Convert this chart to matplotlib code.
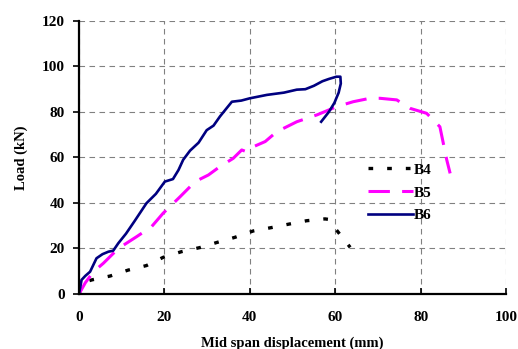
import numpy as np
import matplotlib
matplotlib.use('Agg')
import matplotlib.pyplot as plt

# B4 - dotted black
b4_x = [0, 1, 3, 7.3, 11.5, 15.8, 19.7, 24, 28.3, 32.2, 36.5, 40.8, 45.1, 49.4, 53.3, 57.6, 58.4, 60.3, 63.5]
b4_y = [0, 5, 6.2, 7.9, 10.5, 12.5, 16.1, 18.6, 20.4, 22.6, 24.9, 27.7, 29.2, 30.8, 32.2, 33, 32.8, 28.1, 20.5]

# B5 - dashed magenta
b5_x = [0, 1.5, 3.4, 5.7, 9.2, 13.5, 17, 19.7, 23.7, 27.2, 30.3, 33, 36.1, 38.1, 39.3, 40.8, 43.6, 46.3, 51,
        55.7, 60.3, 64.2, 68.1, 70.5, 74.4, 77.5, 81.4, 84.5, 86.1, 86.9]
b5_y = [0, 5, 9.8, 13.5, 20, 25.2, 29.6, 35.5, 42.8, 49.4, 52.3, 56, 59.6, 63.3, 62.5, 64.7, 67, 71.3, 75.7,
        78.7, 82.3, 84.5, 86, 86, 85.3, 81.6, 79.4, 73.5, 59, 53]

# B6 - solid navy
b6_x = [0, 0.3, 0.6, 1.5, 2.6, 4.1, 5.5, 6.9, 8, 9.2, 11, 13, 15.8, 18, 20.1, 22, 23.3, 24.4, 26, 28, 29.9,
        31.5, 33, 34.5, 35.8, 38, 40, 44, 48, 51, 53, 55, 57, 58.5, 60.3, 61.2, 61.3, 60.8, 59.8, 58.5, 56.7]
b6_y = [0, 3, 6.2, 8, 9.8, 15.7, 17.5, 18.6, 19, 22.3, 26.5, 32, 39.9, 44, 49.4, 50.5, 54.5, 59, 63, 66.5, 72,
        74, 78, 81.5, 84.5, 85, 86, 87.5, 88.5, 89.8, 90, 91.5, 93.5, 94.5, 95.5, 95.5, 92.5, 88.5, 84, 80, 75.7]

plt.rcParams['font.family'] = ['Liberation Serif', 'DejaVu Serif']
plt.rcParams['font.weight'] = 'bold'

fig = plt.figure(figsize=(5.18, 3.49), dpi=100)
ax = fig.add_axes([0.1525, 0.1576, 0.8245, 0.7824])

ax.plot(b4_x, b4_y, color='black', lw=2.4, dashes=(1.4, 4.2), label='B4')
ax.plot(b5_x, b5_y, color='#ff00ff', lw=2.2, dashes=(7, 4), label='B5')
ax.plot(b6_x, b6_y, color='#000080', lw=1.9, label='B6')

ax.set_xlim(0, 100)
ax.set_ylim(0, 120)
ax.set_xticks(np.arange(0, 101, 20))
ax.set_yticks(np.arange(0, 121, 20))
ax.grid(True, color='#808080', linestyle=(0, (5, 4)), lw=0.8)
for s in ['top', 'right']:
    ax.spines[s].set_visible(False)
for s in ['left', 'bottom']:
    ax.spines[s].set_linewidth(1.6)
ax.tick_params(axis='x', direction='in', length=4, width=1.2, labelsize=11, pad=12)
ax.tick_params(axis='y', direction='out', length=4, width=1.2, labelsize=11, pad=6)
for lbl in ax.get_xticklabels() + ax.get_yticklabels():
    lbl.set_fontweight('bold')

ax.set_xlabel('Mid span displacement (mm)', fontsize=10.5, fontweight='bold', labelpad=9)
ax.set_ylabel('Load (kN)', fontsize=10.5, fontweight='bold', labelpad=10)

ax.legend(loc='upper left', bbox_to_anchor=(0.645, 0.53), frameon=False, handlelength=2.9,
          handletextpad=0.05, labelspacing=0.6, prop={'weight': 'bold', 'size': 11})

fig.savefig('out.png', dpi=100)
